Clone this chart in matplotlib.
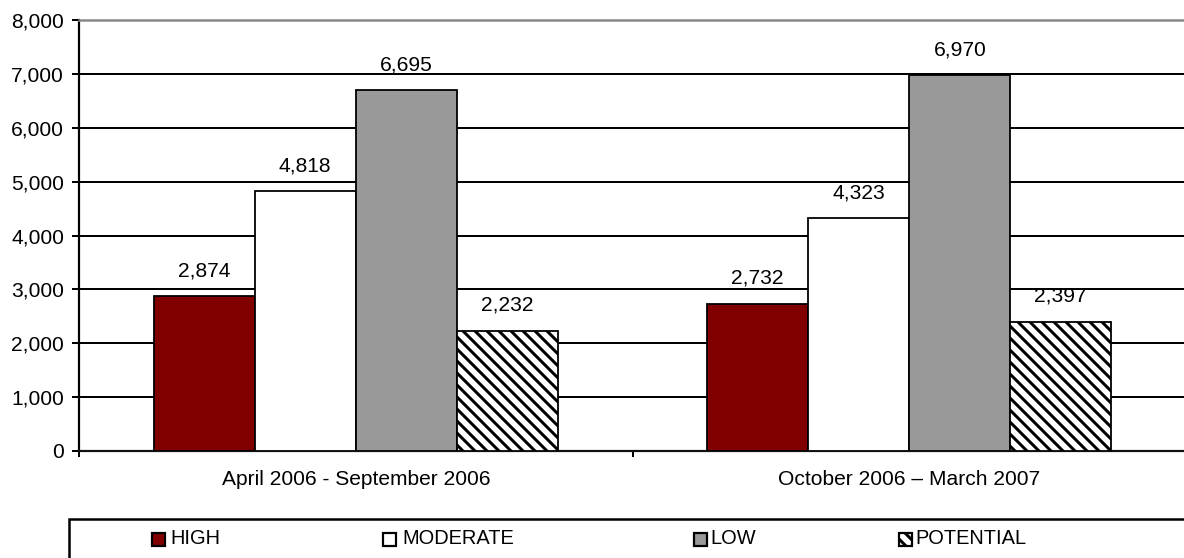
import matplotlib
matplotlib.use("Agg")
import matplotlib.pyplot as plt
from matplotlib.patches import Rectangle
from matplotlib.ticker import FuncFormatter, FixedLocator
import numpy as np

categories = ["April 2006 - September 2006", "October 2006 \u2013 March 2007"]
series_names = ["HIGH", "MODERATE", "LOW", "POTENTIAL"]
high = [2874, 2732]
moderate = [4818, 4323]
low = [6695, 6970]
potential = [2232, 2397]
yticks = [0, 1000, 2000, 3000, 4000, 5000, 6000, 7000, 8000]

plt.rcParams['font.family'] = ['Liberation Sans', 'DejaVu Sans']
plt.rcParams['hatch.linewidth'] = 3.0

DPI = 72
W, H = 1184, 558
fig = plt.figure(figsize=(W / DPI, H / DPI), dpi=DPI)
ax = fig.add_axes([79 / W, (H - 451) / H, 1107 / W, 431 / H])

styles = [
    dict(color="#800000", hatch=None),
    dict(color="white", hatch=None),
    dict(color="#999999", hatch=None),
    dict(color="white", hatch="\\\\"),
]
data = [high, moderate, low, potential]
x = np.arange(len(categories))
bw = 0.1825
fs = 21
for i, (vals, st) in enumerate(zip(data, styles)):
    offs = (i - 1.5) * bw
    bars = ax.bar(x + offs, vals, bw, color=st["color"], edgecolor="black",
                  linewidth=1.8, hatch=st["hatch"], zorder=3, label=series_names[i])
    for b, v in zip(bars, vals):
        ax.annotate(f"{v:,}", (b.get_x() + b.get_width() / 2, v),
                    xytext=(0, 16), textcoords="offset points",
                    ha="center", va="bottom", fontsize=fs, zorder=4)

ax.set_xlim(-0.5, 1.5)
ax.set_ylim(0, 8000)
ax.set_yticks(yticks)
ax.yaxis.set_major_formatter(FuncFormatter(lambda v, p: f"{int(v):,}"))
ax.tick_params(axis="y", direction="out", length=7, width=2, labelsize=fs, pad=8)
ax.grid(axis="y", color="black", linewidth=2.0, zorder=1)
ax.set_axisbelow(True)

ax.xaxis.set_major_locator(FixedLocator([-0.5, 0.5, 1.5]))
ax.xaxis.set_minor_locator(FixedLocator(x))
ax.set_xticklabels([], minor=False)
ax.set_xticklabels(categories, minor=True)
ax.tick_params(axis="x", which="major", direction="out", length=6, width=2)
ax.tick_params(axis="x", which="minor", length=0, labelsize=fs, pad=19)

ax.spines["left"].set_linewidth(2.2)
ax.spines["bottom"].set_linewidth(2.2)
ax.spines["bottom"].set_color("#111111")
ax.spines["top"].set_color("#888888")
ax.spines["top"].set_linewidth(2.5)
ax.spines["right"].set_visible(False)

# legend box
fig.patches.append(Rectangle((69 / W, -0.2), 2.0, (H - 519) / H + 0.2,
                             transform=fig.transFigure, fill=False,
                             edgecolor="black", linewidth=2.5, clip_on=False))
marker_x = [152, 383, 694, 899]
text_x = [170, 402, 710, 915]
ym = 539
ms = 13
for i, st in enumerate(styles):
    fig.patches.append(Rectangle((marker_x[i] / W, (H - ym - ms / 2) / H), ms / W, ms / H,
                                 transform=fig.transFigure, facecolor=st["color"],
                                 edgecolor="black", linewidth=2.2,
                                 hatch=("\\\\" if st["hatch"] else None)))
    fig.text(text_x[i] / W, (H - ym) / H, series_names[i], fontsize=20,
             ha="left", va="center")

fig.savefig("out.png", dpi=DPI)
